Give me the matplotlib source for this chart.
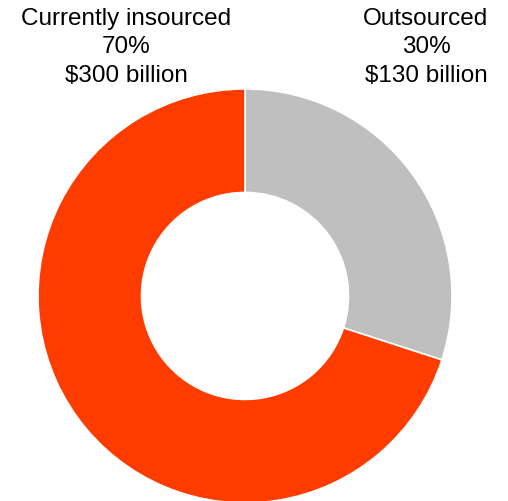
import matplotlib.pyplot as plt

labels = ['Outsourced', 'Currently insourced']
shares = [30, 70]
values = ['$130 billion', '$300 billion']
colors = ['#BFBFBF', '#FF3C00']

plt.rcParams['font.family'] = ['Liberation Sans', 'DejaVu Sans']

fig = plt.figure(figsize=(5.08, 5.02), dpi=100)
ax = fig.add_axes([0.0748, -0.004, 0.815, 0.825])
ax.pie(shares, colors=colors, startangle=90, counterclock=False,
       wedgeprops=dict(width=0.5, edgecolor='white', linewidth=1.2))
ax.set_xlim(-1, 1)
ax.set_ylim(-1, 1)
ax.set_aspect('equal')

fig.text(126 / 508, 1 - 8 / 502, f'{labels[1]}\n{shares[1]}%\n{values[1]}',
         ha='center', va='top', fontsize=17.5, linespacing=1.38)
fig.text(426 / 508, 1 - 8 / 502, f'{labels[0]}\n{shares[0]}%\n{values[0]}',
         ha='center', va='top', fontsize=17.5, linespacing=1.38)

fig.savefig('out.png', dpi=100)
